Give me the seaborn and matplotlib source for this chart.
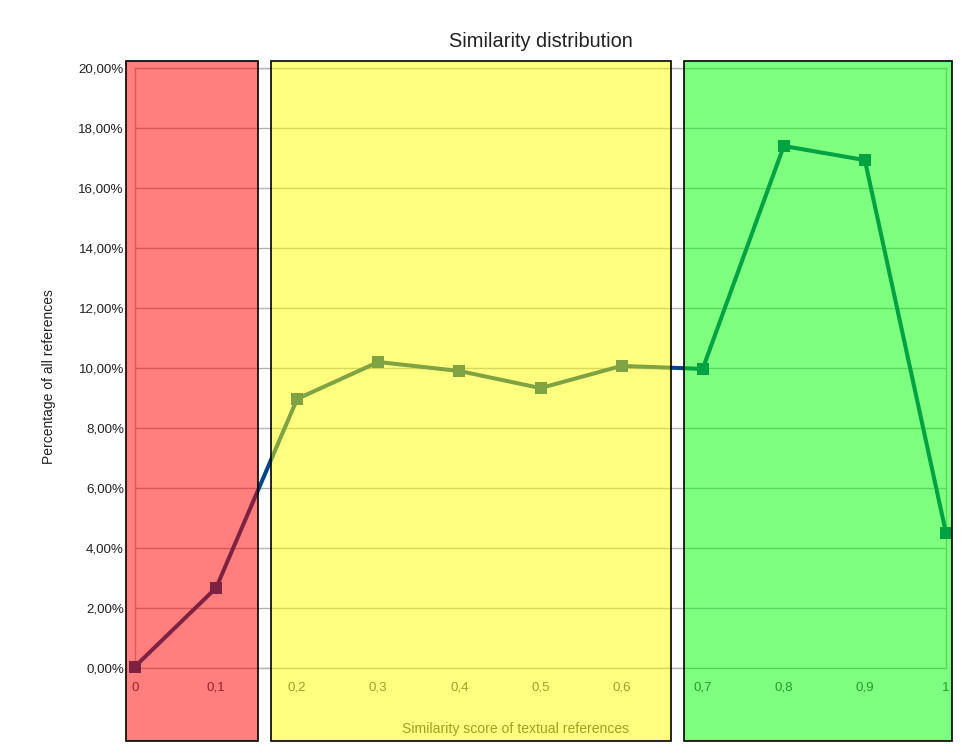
import matplotlib
matplotlib.use("Agg")
import matplotlib.pyplot as plt
import matplotlib.patches as mpatches
from matplotlib.ticker import FuncFormatter
import seaborn as sns
import pandas as pd

# data
scores = [0.0, 0.1, 0.2, 0.3, 0.4, 0.5, 0.6, 0.7, 0.8, 0.9, 1.0]
percent = [0.05, 2.67, 8.97, 10.2, 9.9, 9.33, 10.07, 9.97, 17.4, 16.93, 4.5]
x_tick_labels = ["0", "0,1", "0,2", "0,3", "0,4", "0,5", "0,6", "0,7", "0,8", "0,9", "1"]
y_ticks = [0, 2, 4, 6, 8, 10, 12, 14, 16, 18, 20]

# zones (x range) with colours
zone_bounds = [(-0.011, 0.1517), (0.1677, 0.661), (0.677, 1.0074)]
zone_colors = [(1, 0, 0, 0.5), (1, 1, 0, 0.5), (0, 1, 0, 0.5)]

df = pd.DataFrame({"score": scores, "percent": percent})

sns.set_theme(style="white")
plt.rcParams["font.family"] = ["Liberation Sans", "DejaVu Sans"]

fig = plt.figure(figsize=(9.7, 7.52), dpi=100)
ax = fig.add_axes([135 / 970, 84 / 752, 811 / 970, 600 / 752])

sns.lineplot(data=df, x="score", y="percent", ax=ax, color="#004586",
             linewidth=2.9, marker="s", markersize=8.5, markeredgewidth=0,
             clip_on=False, zorder=3)

ax.set_xlim(0, 1)
ax.set_ylim(0, 20)
ax.set_xticks(scores)
ax.set_xticklabels(x_tick_labels)
ax.set_yticks(y_ticks)
ax.yaxis.set_major_formatter(FuncFormatter(lambda v, p: f"{v:.2f}%".replace(".", ",")))

ax.grid(axis="y", color="#b3b3b3", linewidth=1)
ax.grid(axis="x", visible=False)
for s in ax.spines.values():
    s.set_color("#b3b3b3")
    s.set_linewidth(1)
ax.tick_params(axis="both", which="major", length=4, width=1, color="#b3b3b3",
               labelsize=9.6, pad=6, direction="out")
ax.tick_params(axis="y", labelcolor="#222222", pad=4)
ax.tick_params(axis="x", labelcolor="#444444")
ax.set_axisbelow(True)

ax.set_ylabel("Percentage of all references", fontsize=10, color="#222222")
ax.yaxis.set_label_coords(-0.098, 0.485)
ax.set_xlabel("Similarity score of textual references", fontsize=10.1, color="#444444")
ax.xaxis.label.set_verticalalignment("center")
ax.xaxis.set_label_coords((516 - 135) / 811, -0.1017)

ax.set_title("Similarity distribution", fontsize=14.4, color="#222222", pad=15)

ytop = 20.23
ybot = -2.43
for (x0, x1), col in zip(zone_bounds, zone_colors):
    r = mpatches.Rectangle((x0, ybot), x1 - x0, ytop - ybot, facecolor=col,
                           edgecolor="black", linewidth=1.2, clip_on=False,
                           zorder=5)
    ax.add_patch(r)

fig.savefig("out.png", dpi=100)
